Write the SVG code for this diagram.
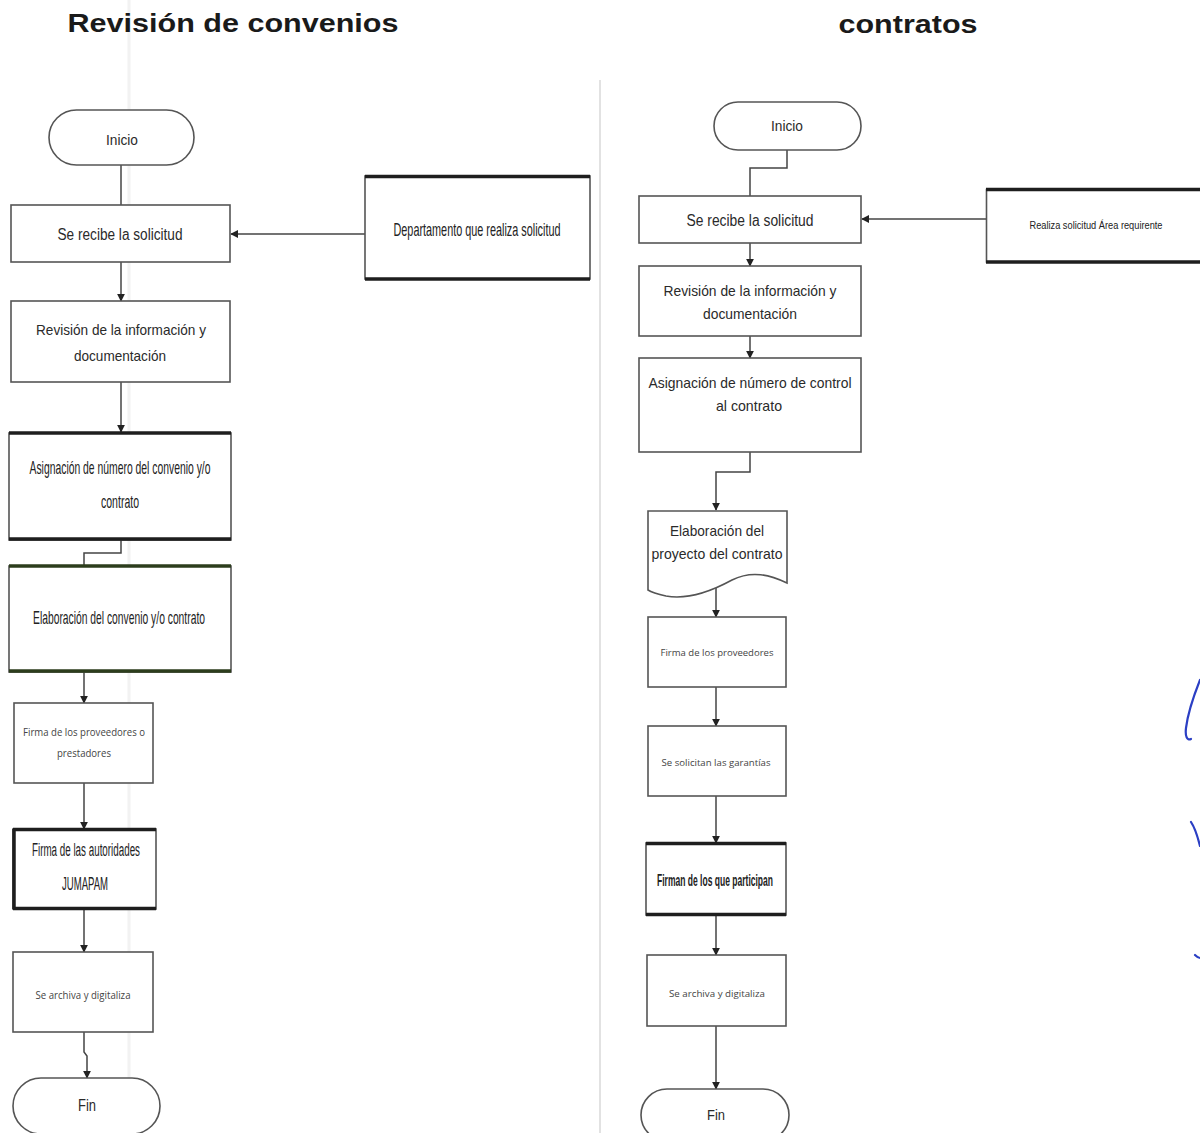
<svg xmlns="http://www.w3.org/2000/svg" width="1200" height="1133" viewBox="0 0 1200 1133">
  <defs>
    <marker id="arr" viewBox="0 0 10 10" refX="9" refY="5" markerWidth="8" markerHeight="8" markerUnits="userSpaceOnUse" orient="auto">
      <path d="M0,0 L10,5 L0,10 Z" fill="#222"/>
    </marker>
    <style>
      .box { fill: #fff; stroke: #555; stroke-width: 1.6; }
      .term { fill: #fff; stroke: #555; stroke-width: 1.6; }
      .heavy { stroke: #1e1e1e; stroke-width: 3.5; fill: none; }
      .heavyg { stroke: #2c3d1c; stroke-width: 3.5; fill: none; }
      .conn { fill: none; stroke: #444; stroke-width: 1.5; }
      .t { font-family: "Liberation Sans", Arial, sans-serif; fill: #2a2a2a; text-anchor: middle; dominant-baseline: central; }
      .c { font-family: "Liberation Sans Narrow", "Liberation Sans", Arial, sans-serif; fill: #222; text-anchor: middle; dominant-baseline: central; }
      .s { font-family: "Open Sans", "Liberation Sans", sans-serif; fill: #444; text-anchor: middle; dominant-baseline: central; }
      .title { font-family: "Liberation Sans", Arial, sans-serif; font-weight: bold; font-size: 26px; fill: #1a1a1a; text-anchor: middle; }
      .pen { fill: none; stroke: #2b3fc4; stroke-width: 2.2; stroke-linecap: round; }
    </style>
  </defs>

  <rect width="1200" height="1133" fill="#fff"/>

  <!-- page fold lines -->
  <line x1="600" y1="80" x2="600" y2="1133" stroke="#e2e2e2" stroke-width="2"/>
  <line x1="129" y1="0" x2="129" y2="1133" stroke="#f2f2f2" stroke-width="3"/>

  <!-- headings -->
  <text class="title" x="233" y="32" textLength="331" lengthAdjust="spacingAndGlyphs">Revisión de convenios</text>
  <text class="title" x="908" y="33" textLength="139" lengthAdjust="spacingAndGlyphs">contratos</text>

  <!-- connectors -->
  <g id="connectors">
    <!-- left flow -->
    <line class="conn" x1="121" y1="165" x2="121" y2="205"/>
    <line class="conn" x1="365" y1="234" x2="231" y2="234" marker-end="url(#arr)"/>
    <line class="conn" x1="121" y1="262" x2="121" y2="301" marker-end="url(#arr)"/>
    <line class="conn" x1="121" y1="382" x2="121" y2="432" marker-end="url(#arr)"/>
    <polyline class="conn" points="121,540 121,553 84,553 84,566"/>
    <line class="conn" x1="84" y1="672" x2="84" y2="703" marker-end="url(#arr)"/>
    <line class="conn" x1="84" y1="783" x2="84" y2="829" marker-end="url(#arr)"/>
    <line class="conn" x1="84" y1="909" x2="84" y2="952" marker-end="url(#arr)"/>
    <polyline class="conn" points="84,1032 84,1052 87,1056 87,1078" marker-end="url(#arr)"/>
    <!-- right flow -->
    <polyline class="conn" points="787,150 787,168 750,168 750,196"/>
    <line class="conn" x1="986" y1="219" x2="862" y2="219" marker-end="url(#arr)"/>
    <line class="conn" x1="750" y1="243" x2="750" y2="266" marker-end="url(#arr)"/>
    <line class="conn" x1="750" y1="336" x2="750" y2="358" marker-end="url(#arr)"/>
    <polyline class="conn" points="750,452 750,472 716,472 716,510" marker-end="url(#arr)"/>
    <line class="conn" x1="716" y1="588" x2="716" y2="617" marker-end="url(#arr)"/>
    <line class="conn" x1="716" y1="687" x2="716" y2="726" marker-end="url(#arr)"/>
    <line class="conn" x1="716" y1="796" x2="716" y2="843" marker-end="url(#arr)"/>
    <line class="conn" x1="716" y1="915" x2="716" y2="955" marker-end="url(#arr)"/>
    <line class="conn" x1="716" y1="1026" x2="716" y2="1089" marker-end="url(#arr)"/>
  </g>

  <!-- left column: convenios -->
  <g id="l-inicio">
    <rect class="term" x="49" y="110" width="145" height="55" rx="27.5"/>
    <text class="t" x="122" y="139" font-size="15" textLength="32" lengthAdjust="spacingAndGlyphs">Inicio</text>
  </g>
  <g id="l-recibe">
    <rect class="box" x="11" y="205" width="219" height="57"/>
    <text class="t" x="120" y="234" font-size="16" textLength="125" lengthAdjust="spacingAndGlyphs">Se recibe la solicitud</text>
  </g>
  <g id="l-depto">
    <rect class="box" x="365" y="176" width="225" height="103"/>
    <line class="heavy" x1="365" y1="176.5" x2="590" y2="176.5" stroke-width="2.5"/>
    <line class="heavy" x1="365" y1="279" x2="590" y2="279" stroke-width="2.5"/>
    <text class="c" x="477" y="229" font-size="19" textLength="167" lengthAdjust="spacingAndGlyphs">Departamento que realiza solicitud</text>
  </g>
  <g id="l-revision">
    <rect class="box" x="11" y="301" width="219" height="81"/>
    <text class="t" x="121" y="329" font-size="15" textLength="170" lengthAdjust="spacingAndGlyphs">Revisión de la información y</text>
    <text class="t" x="120" y="355" font-size="15" textLength="92" lengthAdjust="spacingAndGlyphs">documentación</text>
  </g>
  <g id="l-asignacion">
    <rect class="box" x="9" y="433" width="222" height="107"/>
    <line class="heavy" x1="9" y1="433" x2="231" y2="433"/>
    <line class="heavy" x1="9" y1="539" x2="231" y2="539"/>
    <text class="c" x="120" y="467" font-size="19" textLength="181" lengthAdjust="spacingAndGlyphs">Asignación de número del convenio y/o</text>
    <text class="c" x="120" y="501" font-size="19" textLength="38" lengthAdjust="spacingAndGlyphs">contrato</text>
  </g>
  <g id="l-elaboracion">
    <rect class="box" x="9" y="566" width="222" height="106"/>
    <line class="heavyg" x1="9" y1="566" x2="231" y2="566"/>
    <line class="heavyg" x1="9" y1="671" x2="231" y2="671"/>
    <text class="c" x="119" y="617" font-size="19" textLength="172" lengthAdjust="spacingAndGlyphs">Elaboración del convenio y/o contrato</text>
  </g>
  <g id="l-firma-prov">
    <rect class="box" x="14" y="703" width="139" height="80"/>
    <text class="s" x="84" y="732" font-size="10" textLength="122" lengthAdjust="spacingAndGlyphs">Firma de los proveedores o</text>
    <text class="s" x="84" y="753" font-size="10" textLength="54" lengthAdjust="spacingAndGlyphs">prestadores</text>
  </g>
  <g id="l-firma-aut">
    <rect class="box" x="13" y="829" width="143" height="80"/>
    <line class="heavy" x1="13" y1="829.5" x2="156" y2="829.5"/>
    <line class="heavy" x1="13" y1="908.5" x2="156" y2="908.5"/>
    <line class="heavy" x1="14" y1="829" x2="14" y2="909" stroke-width="2.5"/>
    <text class="c" x="86" y="850" font-size="18" textLength="108" lengthAdjust="spacingAndGlyphs">Firma de las autoridades</text>
    <text class="c" x="85" y="884" font-size="18" textLength="46" lengthAdjust="spacingAndGlyphs">JUMAPAM</text>
  </g>
  <g id="l-archiva">
    <rect class="box" x="13" y="952" width="140" height="80"/>
    <text class="s" x="83" y="995" font-size="10" textLength="95" lengthAdjust="spacingAndGlyphs">Se archiva y digitaliza</text>
  </g>
  <g id="l-fin">
    <rect class="term" x="13" y="1078" width="147" height="56" rx="28"/>
    <text class="t" x="87" y="1105" font-size="16" textLength="18" lengthAdjust="spacingAndGlyphs">Fin</text>
  </g>

  <!-- right column: contratos -->
  <g id="r-inicio">
    <rect class="term" x="714" y="102" width="147" height="48" rx="24"/>
    <text class="t" x="787" y="126" font-size="14" textLength="32" lengthAdjust="spacingAndGlyphs">Inicio</text>
  </g>
  <g id="r-recibe">
    <rect class="box" x="639" y="196" width="222" height="47"/>
    <text class="t" x="750" y="220" font-size="16" textLength="127" lengthAdjust="spacingAndGlyphs">Se recibe la solicitud</text>
  </g>
  <g id="r-realiza">
    <!-- box runs past the right margin: only three sides are drawn -->
    <path d="M1200,189.5 H986.5 V262 H1200" fill="#fff" stroke="#555" stroke-width="1.6"/>
    <line class="heavy" x1="986" y1="189.5" x2="1200" y2="189.5" stroke-width="2.5"/>
    <line class="heavy" x1="986" y1="262" x2="1200" y2="262" stroke-width="2.5"/>
    <text class="c" x="1096" y="225" font-size="11" textLength="133" lengthAdjust="spacingAndGlyphs">Realiza solicitud Área requirente</text>
  </g>
  <g id="r-revision">
    <rect class="box" x="639" y="266" width="222" height="70"/>
    <text class="t" x="750" y="290" font-size="15" textLength="173" lengthAdjust="spacingAndGlyphs">Revisión de la información y</text>
    <text class="t" x="750" y="313" font-size="15" textLength="94" lengthAdjust="spacingAndGlyphs">documentación</text>
  </g>
  <g id="r-asignacion">
    <rect class="box" x="639" y="358" width="222" height="94"/>
    <text class="t" x="750" y="382" font-size="15" textLength="203" lengthAdjust="spacingAndGlyphs">Asignación de número de control</text>
    <text class="t" x="749" y="405" font-size="15" textLength="66" lengthAdjust="spacingAndGlyphs">al contrato</text>
  </g>
  <g id="r-elaboracion">
    <path class="box" d="M648,511 H787 V583 C770,575 752,570 732,580 C710,592 688,600 666,596 C657,594 651,592 648,590 Z"/>
    <text class="t" x="717" y="530" font-size="15" textLength="94" lengthAdjust="spacingAndGlyphs">Elaboración del</text>
    <text class="t" x="717" y="553" font-size="15" textLength="131" lengthAdjust="spacingAndGlyphs">proyecto del contrato</text>
  </g>
  <g id="r-firma-prov">
    <rect class="box" x="648" y="617" width="138" height="70"/>
    <text class="s" x="717" y="652" font-size="9" textLength="113" lengthAdjust="spacingAndGlyphs">Firma de los proveedores</text>
  </g>
  <g id="r-garantias">
    <rect class="box" x="648" y="726" width="138" height="70"/>
    <text class="s" x="716" y="762" font-size="9" textLength="109" lengthAdjust="spacingAndGlyphs">Se solicitan las garantías</text>
  </g>
  <g id="r-firman">
    <rect class="box" x="646" y="843" width="140" height="72"/>
    <line class="heavy" x1="646" y1="843.5" x2="786" y2="843.5"/>
    <line class="heavy" x1="646" y1="914.5" x2="786" y2="914.5" stroke-width="2.5"/>
    <text class="c" x="715" y="880" font-size="17" font-weight="bold" textLength="116" lengthAdjust="spacingAndGlyphs">Firman de los que participan</text>
  </g>
  <g id="r-archiva">
    <rect class="box" x="647" y="955" width="139" height="71"/>
    <text class="s" x="717" y="993" font-size="9" textLength="96" lengthAdjust="spacingAndGlyphs">Se archiva y digitaliza</text>
  </g>
  <g id="r-fin">
    <rect class="term" x="641" y="1089" width="148" height="52" rx="26"/>
    <text class="t" x="716" y="1114" font-size="15" textLength="18" lengthAdjust="spacingAndGlyphs">Fin</text>
  </g>

  <!-- ink marks at the right margin -->
  <g id="ink">
    <path class="pen" d="M1200,680 C1194,695 1188,712 1186,728 C1185,736 1187,741 1191,739"/>
    <path class="pen" d="M1191,822 C1195,828 1198,838 1200,846"/>
    <path class="pen" d="M1195,955 C1197,957 1199,958 1200,958"/>
  </g>
</svg>
